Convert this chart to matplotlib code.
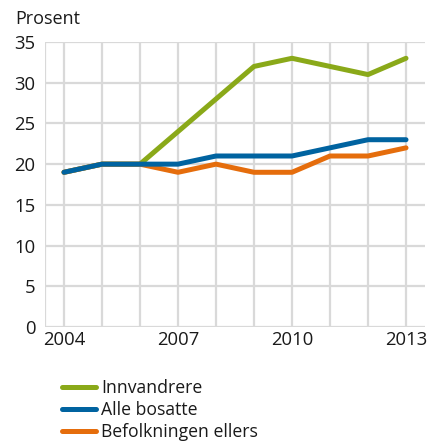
import matplotlib
matplotlib.use("Agg")
import matplotlib.pyplot as plt
from matplotlib.lines import Line2D

years = [2004, 2005, 2006, 2007, 2008, 2009, 2010, 2011, 2012, 2013]
innvandrere = [19, 20, 20, 24, 28, 32, 33, 32, 31, 33]
alle_bosatte = [19, 20, 20, 20, 21, 21, 21, 22, 23, 23]
befolkningen_ellers = [19, 20, 20, 19, 20, 19, 19, 21, 21, 22]
labels = ["Innvandrere", "Alle bosatte", "Befolkningen ellers"]
colors = ["#8aa919", "#0063a0", "#e56d0c"]
yticks = [0, 5, 10, 15, 20, 25, 30, 35]
xticks = [2004, 2007, 2010, 2013]

plt.rcParams['font.family'] = ['Open Sans', 'DejaVu Sans']

fig = plt.figure(figsize=(4.28, 4.41), dpi=100)
ax = fig.add_axes([45/428, 1-327/441, 380/428, 285/441])

grid_c = "#d9d9d9"
for y in yticks:
    ax.axhline(y, color=grid_c, lw=1.6, zorder=1)
for x in years:
    ax.axvline(x, color=grid_c, lw=1.6, zorder=1)
ax.axvline(2003.5, color=grid_c, lw=1.6, zorder=1)

series = [befolkningen_ellers, alle_bosatte, innvandrere]
cols = [colors[2], colors[1], colors[0]]
order_z = [3, 4, 2]
for s, c, z in zip(series, cols, order_z):
    ax.plot(years, s, color=c, lw=3.6, solid_capstyle='round', solid_joinstyle='round', zorder=z)

ax.set_xlim(2003.5, 2013.5)
ax.set_ylim(0, 35)
ax.set_yticks(yticks)
ax.set_xticks(xticks)
ax.tick_params(length=0, labelsize=13.3, colors="#1a1a1a", pad=7)
ax.tick_params(axis='x', pad=3)
for sp in ax.spines.values():
    sp.set_visible(False)

fig.text(15/428, 1-19/441, "Prosent", fontsize=13, color="#1a1a1a", va='center', ha='left')

handles = [Line2D([0], [0], color=c, lw=3.6, solid_capstyle='round') for c in colors]
leg = fig.legend(handles, labels, loc='upper left', bbox_to_anchor=(62/428, 1-379/441),
                 frameon=False, fontsize=12.7, handlelength=1.9, handletextpad=0.3,
                 labelspacing=0.22, borderaxespad=0, borderpad=0)
for t in leg.get_texts():
    t.set_color("#1a1a1a")

fig.savefig("out.png", dpi=100)
